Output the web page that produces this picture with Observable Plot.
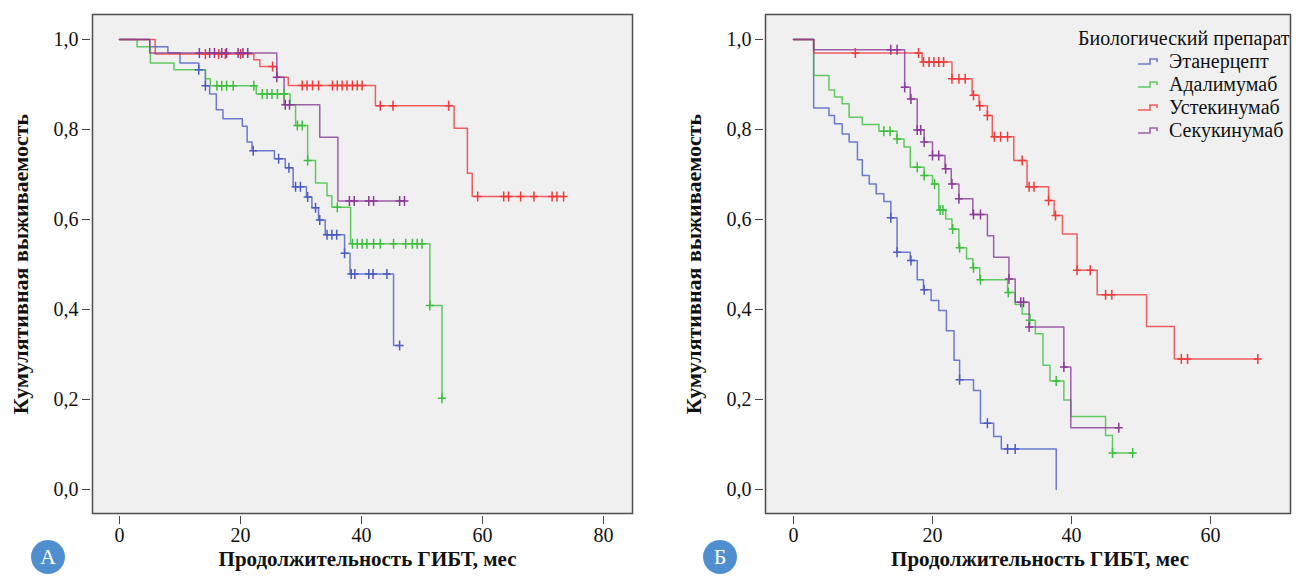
<!DOCTYPE html>
<html>
<head>
<meta charset="utf-8">
<script src="https://cdn.jsdelivr.net/npm/d3@7"></script>
<script src="https://cdn.jsdelivr.net/npm/@observablehq/plot@0.6"></script>
<style>
  body { margin: 0; background: #fff; }
  #chart { position: relative; width: 1299px; height: 576px; overflow: hidden;
           font-family: "Liberation Serif", "Times New Roman", serif; color: #111; }
  .panel { position: absolute; top: 0; }
  .badge { position: absolute; width: 34px; height: 34px; border-radius: 50%;
           background: #4f8fd0; color: #fff; font: 22px "Liberation Serif", serif;
           display: flex; align-items: center; justify-content: center; }
  .legend { position: absolute; left: 1078px; top: 26px; font: 20px "Liberation Serif", serif; color: #111; }
  .legend .lg-title { font-size: 20px; line-height: 24px; margin-bottom: 0px; }
  .legend .row { display: flex; align-items: center; height: 23px; margin-left: 60px; }
  .legend .row svg { margin-right: 10px; }
</style>
</head>
<body>
<div id="chart"></div>
<script>
// Biological drug groups and their colours
const series = ["Этанерцепт", "Адалимумаб", "Устекинумаб", "Секукинумаб"];
const colors = ["#4a5cc4", "#3dbf3d", "#ee3a3a", "#8a3a98"];
const legendTitle = "Биологический препарат";

// Axis ticks and labels
const xTicksA = [0, 20, 40, 60, 80];
const xTicksB = [0, 20, 40, 60];
const yTicks = [0, 0.2, 0.4, 0.6, 0.8, 1];
const yTickLabels = ["0,0", "0,2", "0,4", "0,6", "0,8", "1,0"];
const xTitle = "Продолжительность ГИБТ, мес";
const yTitle = "Кумулятивная выживаемость";
const panelLetters = ["A", "Б"];

// Panel A: event times (months), survival after each event, censoring times
const aEtaT = [0, 5, 8, 10, 13.1, 14.2, 14.9, 16, 17.1, 20.3, 21.1, 21.9, 25.6, 27.4, 28.7, 30.9, 31.8, 32.9, 34, 37.2, 38.1, 45.3];
const aEtaS = [1, 0.984, 0.97, 0.948, 0.933, 0.897, 0.879, 0.844, 0.824, 0.807, 0.772, 0.753, 0.735, 0.715, 0.673, 0.65, 0.626, 0.599, 0.566, 0.525, 0.479, 0.32];
const aEtaC = [13.1, 14.2, 22.1, 26.3, 28, 29.1, 29.9, 31.1, 32.4, 33.1, 34.3, 35.1, 35.9, 37.2, 38.3, 38.9, 41.2, 41.9, 44.2, 46.3];

const aAdaT = [0, 2.9, 5.1, 9, 14.2, 15, 22.6, 28.2, 29.1, 31.1, 32.4, 34.3, 35.1, 38.2, 51.3, 53.3];
const aAdaS = [1, 0.984, 0.948, 0.933, 0.913, 0.897, 0.879, 0.855, 0.809, 0.731, 0.681, 0.653, 0.627, 0.546, 0.409, 0.203];
const aAdaC = [16.1, 16.9, 17.7, 18.8, 22.2, 23.6, 24.4, 25.2, 26.1, 27.2, 29.4, 30.2, 31.1, 36, 38.5, 39.3, 40.1, 40.9, 42, 43.1, 45.3, 47.3, 48.4, 49.2, 50, 51.3, 53.3];

const aUstT = [0, 5.9, 22.2, 23.2, 26, 27.9, 42.3, 55.3, 57.5, 58.3];
const aUstS = [1, 0.968, 0.955, 0.94, 0.916, 0.898, 0.853, 0.803, 0.703, 0.651];
const aUstC = [14.2, 16.4, 17.5, 20, 25.3, 30.2, 31, 31.9, 32.9, 35.2, 36, 36.8, 37.6, 38.5, 39.3, 40.1, 43.1, 45.2, 54.4, 59.2, 63.5, 64.3, 66.3, 68.5, 71.5, 72.3, 73.4];

const aSekT = [0, 5, 26, 27.2, 33.1, 36.1];
const aSekS = [1, 0.97, 0.916, 0.855, 0.783, 0.641];
const aSekC = [13.2, 14.9, 15.7, 16.9, 17.7, 19.6, 20.4, 21.2, 26, 27.4, 28.1, 38, 38.8, 41.2, 42, 46.3, 47.1];

// Panel B
const bEtaT = [0, 2.9, 5.1, 5.9, 7, 8, 9.2, 9.9, 10.9, 11.9, 13, 14, 14.9, 16.8, 17.8, 18.7, 19.8, 20.9, 22, 23.1, 23.9, 25.9, 26.9, 28.8, 29.9, 37.8];
const bEtaS = [1, 0.848, 0.831, 0.813, 0.79, 0.772, 0.733, 0.698, 0.679, 0.657, 0.64, 0.604, 0.527, 0.509, 0.466, 0.444, 0.42, 0.398, 0.353, 0.287, 0.244, 0.22, 0.147, 0.118, 0.09, 0];
const bEtaC = [14, 14.9, 16.9, 18.8, 23.9, 27.9, 30.8, 31.9];

const bAdaT = [0, 2.9, 5.1, 5.9, 7, 8, 9.9, 12.3, 14.9, 15.9, 16.8, 18.8, 20, 20.9, 21.9, 22.8, 23.8, 24.9, 25.8, 26.8, 30.8, 31.9, 32.9, 34, 34.8, 35.9, 36.9, 38.9, 39.9, 44.9, 45.9];
const bAdaS = [1, 0.92, 0.888, 0.872, 0.857, 0.827, 0.811, 0.796, 0.779, 0.761, 0.716, 0.698, 0.679, 0.621, 0.601, 0.579, 0.537, 0.513, 0.493, 0.466, 0.438, 0.411, 0.39, 0.376, 0.346, 0.276, 0.241, 0.199, 0.162, 0.12, 0.081];
const bAdaC = [13, 13.9, 14.9, 17.8, 18.8, 20.3, 21.1, 21.5, 22.9, 23.9, 25.9, 26.9, 30.9, 34, 37.8, 45.9, 48.8];

const bUstT = [0, 2.9, 18.5, 22.8, 25.7, 26.7, 27.9, 28.6, 31.7, 33.6, 36.7, 37.5, 38.7, 40.8, 43.7, 50.8, 54.8];
const bUstS = [1, 0.97, 0.95, 0.913, 0.876, 0.853, 0.831, 0.784, 0.731, 0.673, 0.642, 0.609, 0.568, 0.487, 0.433, 0.362, 0.29];
const bUstC = [8.9, 18, 18.7, 19.5, 20.2, 20.9, 21.6, 22.8, 23.8, 24.7, 25.9, 26.8, 27.9, 28.9, 29.8, 30.8, 32.9, 33.9, 34.6, 36.7, 37.7, 40.8, 42.7, 44.9, 45.8, 55.8, 56.7, 66.8];

const bSekT = [0, 2.9, 16, 16.8, 17.8, 18.8, 20, 21.8, 22.7, 23.8, 25.8, 27.9, 28.8, 31, 31.9, 33.9, 38.9, 39.9];
const bSekS = [1, 0.977, 0.894, 0.868, 0.799, 0.772, 0.742, 0.713, 0.679, 0.646, 0.611, 0.564, 0.516, 0.468, 0.416, 0.361, 0.272, 0.137];
const bSekC = [14, 14.9, 16, 16.9, 17.8, 18.3, 18.8, 20, 20.9, 21.9, 22.8, 23.8, 25.9, 26.9, 31, 32.7, 33.1, 33.9, 38.9, 46.8];

// Survival value of a step function at time t
function stepAt(T, S, t) {
  let v = S[0];
  for (let i = 0; i < T.length; i++) if (T[i] <= t + 1e-9) v = S[i];
  return v;
}

// Build line points and censor points for a group
function build(groups) {
  const pts = [], cens = [];
  groups.forEach(([T, S, C], k) => {
    const name = series[k];
    T.forEach((t, i) => pts.push({name, t, s: S[i]}));
    const lastT = T[T.length - 1];
    const end = Math.max(lastT, C.length ? C[C.length - 1] : lastT);
    if (end > lastT) pts.push({name, t: end, s: S[S.length - 1]});
    C.forEach(t => cens.push({name, t, s: stepAt(T, S, t)}));
  });
  return {pts, cens};
}

// "+" marker for censored observations
const cross = {
  draw(ctx, size) {
    const r = Math.sqrt(size / Math.PI);
    ctx.moveTo(0, -r); ctx.lineTo(0, r);
    ctx.moveTo(-r * 0.8, 0); ctx.lineTo(r * 0.8, 0);
  }
};

const font = '"Liberation Serif", "Times New Roman", serif';

function panel({data, xDomain, xTicks, width, marginLeft, marginRight, titleDx}) {
  return Plot.plot({
    width, height: 576,
    marginTop: 14, marginBottom: 63, marginLeft, marginRight,
    style: {fontFamily: font, fontSize: "20px", color: "#111", background: "transparent"},
    x: {domain: xDomain, label: null},
    y: {domain: [-0.05333, 1.05556], label: null},
    color: {domain: series, range: colors},
    marks: [
      Plot.frame({fill: "#f0f0f0", stroke: "none"}),
      Plot.line(data.pts, {x: "t", y: "s", z: "name", stroke: "name", curve: "step-after", strokeWidth: 1.5, strokeOpacity: 0.8}),
      Plot.dot(data.cens, {x: "t", y: "s", stroke: "name", symbol: cross, r: 5, fill: "none", strokeWidth: 1.5}),
      Plot.frame({stroke: "#4d4d4d", strokeWidth: 1.5}),
      Plot.axisX({ticks: xTicks, tickSize: 8, tickPadding: 3, dy: 3, label: null, stroke: "#444",
                  fontSize: 20, fontFamily: font, tickFormat: d => String(d)}),
      Plot.axisY({ticks: yTicks, tickSize: 8, tickPadding: 4, dx: -2, label: null, stroke: "#444",
                  fontSize: 20, fontFamily: font, tickFormat: d => yTickLabels[yTicks.indexOf(d)]}),
      Plot.text([xTitle], {frameAnchor: "bottom", dy: 52, dx: titleDx, text: d => d, fontWeight: "bold", fontSize: 21, fontFamily: font}),
      Plot.text([yTitle], {frameAnchor: "left", rotate: -90, dx: -72, textAnchor: "middle", text: d => d, fontWeight: "bold", fontSize: 22, fontFamily: font})
    ]
  });
}

const chart = document.getElementById("chart");

const dataA = build([[aEtaT, aEtaS, aEtaC], [aAdaT, aAdaS, aAdaC], [aUstT, aUstS, aUstC], [aSekT, aSekS, aSekC]]);
const dataB = build([[bEtaT, bEtaS, bEtaC], [bAdaT, bAdaS, bAdaC], [bUstT, bUstS, bUstC], [bSekT, bSekS, bSekC]]);

const svgA = panel({data: dataA, xDomain: [-4.463, 84.79], xTicks: xTicksA, width: 650, marginLeft: 92, marginRight: 18, titleDx: 5});
svgA.classList.add("panel");
svgA.style.left = "0px";
chart.appendChild(svgA);

const svgB = panel({data: dataB, xDomain: [-4.029, 71.51], xTicks: xTicksB, width: 649, marginLeft: 115, marginRight: 9, titleDx: 12});
svgB.classList.add("panel");
svgB.style.left = "650px";
chart.appendChild(svgB);

// Panel letters
[[31, panelLetters[0]], [703, panelLetters[1]]].forEach(([left, letter]) => {
  const b = document.createElement("div");
  b.className = "badge";
  b.style.left = left + "px";
  b.style.top = "540px";
  b.textContent = letter;
  chart.appendChild(b);
});

// Legend for the groups
const legend = document.createElement("div");
legend.className = "legend";
const lt = document.createElement("div");
lt.className = "lg-title";
lt.textContent = legendTitle;
legend.appendChild(lt);
series.forEach((name, i) => {
  const row = document.createElement("div");
  row.className = "row";
  row.innerHTML = `<svg width="21" height="10"><path d="M0,7H12V2H19V5" fill="none" stroke="${colors[i]}" stroke-width="1.6" stroke-opacity="0.8"/></svg><span>${name}</span>`;
  legend.appendChild(row);
});
chart.appendChild(legend);
</script>
</body>
</html>
